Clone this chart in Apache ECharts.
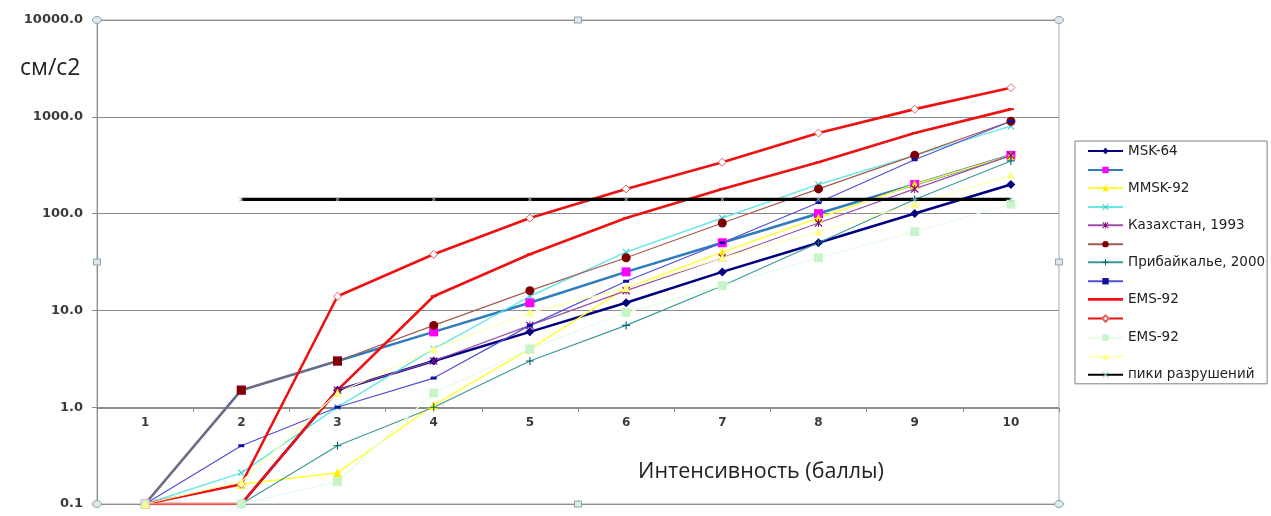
<!DOCTYPE html>
<html>
<head>
<meta charset="utf-8">
<script src="https://cdn.jsdelivr.net/npm/echarts@6/dist/echarts.min.js"></script>
<style>
  html, body { margin: 0; padding: 0; background: #ffffff; }
  #chart { width: 1271px; height: 516px; }
</style>
</head>
<body>
<div id="chart"></div>
<script>
// Intensity categories (points on the scale)
const categories = ['1', '2', '3', '4', '5', '6', '7', '8', '9', '10'];

// Peak ground acceleration, cm/s2, per intensity
const msk64        = [null, 0.1, 1.5, 3, 6, 12, 25, 50, 100, 200];
const msk64Hi      = [0.1, 1.5, 3, 6, 12, 25, 50, 100, 200, 400];
const mmsk92       = [0.1, 0.16, 0.21, 1.05, 4, 17, 40, 90, 200, 400];
const mmsk92Hi     = [0.1, 0.21, 1.0, 4, 14, 40, 90, 200, 400, 800];
const kazakh1993   = [null, 0.1, 1.5, 3, 7, 16, 35, 80, 180, 400];
const kazakh1993Hi = [0.1, 1.5, 3, 7, 16, 35, 80, 180, 400, 900];
const baikal2000   = [null, 0.1, 0.4, 1.0, 3, 7, 18, 50, 140, 350];
const baikal2000Hi = [0.1, 0.4, 1.0, 2, 7, 20, 50, 130, 360, 900];
const ems92        = [0.1, 0.1, 1.5, 14, 38, 90, 180, 340, 680, 1200];
const ems92Hi      = [0.1, 0.16, 14, 38, 90, 180, 340, 680, 1200, 2000];
const ems92b       = [0.1, 0.1, 0.17, 1.4, 4, 9.5, 18, 35, 65, 125];
const ems92bHi     = [0.1, 0.17, 1.4, 4, 9.5, 17, 35, 65, 125, 250];
const damagePeaks  = [null, 140, 140, 140, 140, 140, 140, 140, 140, 140];

// Legend captions (empty for the paired upper bounds)
const legendLabels = ['MSK-64', '', 'MMSK-92', '', 'Казахстан, 1993', '', 'Прибайкалье, 2000', '', 'EMS-92', '', 'EMS-92', '', 'пики разрушений'];

// Marker shapes not built into ECharts
const SYM_X    = 'path://M1,0L5,4L9,0L10,1L6,5L10,9L9,10L5,6L1,10L0,9L4,5L0,1Z';
const SYM_PLUS = 'path://M4.3,0H5.7V4.3H10V5.7H5.7V10H4.3V5.7H0V4.3H4.3Z';
const SYM_STAR = 'path://M1,0L5,4L9,0L10,1L6,5L10,9L9,10L5,6L1,10L0,9L4,5L0,1Z M4.4,0H5.6V10H4.4Z';
const ICON_LINE = 'path://M0,0H35V2.6H0Z';

const GRID = { left: 97, top: 20, right: 212, bottom: 12 };
const AXIS_Y1 = 408; // pixel row of the 1.0 line, where the category axis crosses

function line(idx, data, o) {
  return {
    name: 's' + idx,
    type: 'line',
    xAxisIndex: 0, yAxisIndex: 0,
    data: data,
    connectNulls: false,
    symbol: o.symbol || 'none',
    symbolSize: o.size || 8,
    showAllSymbol: true,
    lineStyle: { color: o.line, width: o.width || 1.2, type: 'solid' },
    itemStyle: { color: o.fill || o.line, borderColor: o.stroke || o.fill || o.line, borderWidth: o.bw || 0 },
    emphasis: { disabled: true },
    z: 2
  };
}

// maroon series: its first markers are drawn as dark-red squares
const kazakhHiData = kazakh1993Hi.map((v, i) => {
  if (i === 0) return { value: v, symbol: 'none' };
  if (i < 3) return { value: v, symbol: 'rect', symbolSize: 9 };
  return v;
});

const series = [
  line(1, msk64, { line: '#000080', width: 2.6, symbol: 'diamond', size: 9 }),
  line(2, msk64Hi, { line: '#2F7BBE', width: 2.6, symbol: 'rect', size: 9, fill: '#FF00FF' }),
  line(3, mmsk92, { line: '#FFFF33', width: 1.4, symbol: 'triangle', size: 9, fill: '#FFEE00' }),
  line(4, mmsk92Hi, { line: '#66E6E6', width: 1.4, symbol: SYM_X, size: 7, fill: '#33CCCC' }),
  line(5, kazakh1993, { line: '#9A4FA8', width: 1.2, symbol: SYM_STAR, size: 8, fill: '#800080' }),
  line(6, kazakhHiData, { line: '#A65A50', width: 1.2, symbol: 'circle', size: 9, fill: '#800000' }),
  line(7, baikal2000, { line: '#3C9A9A', width: 1.2, symbol: SYM_PLUS, size: 8, fill: '#006868' }),
  line(8, baikal2000Hi, { line: '#5050D0', width: 1.2, symbol: 'rect', size: [6, 3], fill: '#1010A0' }),
  line(9, ems92, { line: '#EE1111', width: 2.6, symbol: 'rect', size: [6, 2], fill: '#EE1111' }),
  line(10, ems92Hi, { line: '#EE1111', width: 2.6, symbol: 'diamond', size: 8, fill: '#ffffff', stroke: '#E06060', bw: 1 }),
  line(11, ems92b, { line: '#E4FCE4', width: 1.2, symbol: 'rect', size: 9, fill: '#C8F5C8' }),
  line(12, ems92bHi, { line: '#FFFFB0', width: 1.2, symbol: 'triangle', size: 8, fill: '#FFFF88' }),
  line(13, damagePeaks, { line: '#000000', width: 3.2, symbol: SYM_X, size: 5, fill: '#9CC8D8' })
];

const chart = echarts.init(document.getElementById('chart'), null, { renderer: 'canvas' });

const labelFont = { fontFamily: 'DejaVu Sans', fontWeight: 'bold', color: '#3a3a3a' };

// selection-style handles on the plot frame
const W = 1271, H = 516;
const gx0 = GRID.left, gx1 = W - GRID.right, gy0 = GRID.top, gy1 = H - GRID.bottom;
const gxm = (gx0 + gx1) / 2, gym = (gy0 + gy1) / 2;
const handleStyle = { fill: '#dde9ee', stroke: '#8aa4ad', lineWidth: 1 };
const handles = [];
[[gx0, gy0], [gx1, gy0], [gx0, gy1], [gx1, gy1]].forEach(p => handles.push({
  type: 'ellipse', shape: { cx: p[0], cy: p[1], rx: 4.5, ry: 3.5 }, style: handleStyle, z: 10
}));
[[gxm, gy0], [gxm, gy1], [gx0, gym], [gx1, gym]].forEach(p => handles.push({
  type: 'rect', shape: { x: p[0] - 3.5, y: p[1] - 3, width: 7, height: 6 }, style: handleStyle, z: 10
}));

chart.setOption({
  animation: false,
  backgroundColor: '#ffffff',
  grid: [
    { left: GRID.left, top: GRID.top, right: GRID.right, bottom: GRID.bottom,
      show: true, borderColor: '#a8a8a8', borderWidth: 1, backgroundColor: 'transparent' },
    { left: GRID.left, top: GRID.top, right: GRID.right, bottom: H - AXIS_Y1 }
  ],
  xAxis: [
    { type: 'category', gridIndex: 0, data: categories, boundaryGap: true,
      axisLine: { show: false }, axisTick: { show: false }, axisLabel: { show: false }, splitLine: { show: false } },
    { type: 'category', gridIndex: 1, data: categories, boundaryGap: true, position: 'bottom',
      axisLine: { show: true, lineStyle: { color: '#8c8c8c', width: 1 } },
      axisTick: { show: true, length: 4, lineStyle: { color: '#8c8c8c' } },
      axisLabel: Object.assign({ fontSize: 12, margin: 9 }, labelFont),
      splitLine: { show: false } }
  ],
  yAxis: [
    { type: 'log', gridIndex: 0, logBase: 10, min: 0.1, max: 10000,
      axisLine: { show: true, lineStyle: { color: '#8c8c8c' } },
      axisTick: { show: true, length: 5, lineStyle: { color: '#8c8c8c' } },
      axisLabel: Object.assign({ fontSize: 13, margin: 14, formatter: v => Number(v).toFixed(1) }, labelFont),
      splitLine: { show: true, lineStyle: { color: '#8c8c8c', width: 1 } },
      minorTick: { show: false } },
    { type: 'value', gridIndex: 1, show: false }
  ],
  legend: {
    orient: 'vertical',
    left: 1075, top: 141,
    padding: [3, 2, 2, 12],
    itemWidth: 35, itemHeight: 8, itemGap: 7.95,
    borderColor: '#808080', borderWidth: 1,
    backgroundColor: '#ffffff',
    textStyle: { fontFamily: 'DejaVu Sans', fontSize: 13.5, color: '#222222' },
    formatter: name => legendLabels[Number(name.slice(1)) - 1],
    data: series.map(s => s.name === 's9' ? { name: s.name, icon: ICON_LINE } : s.name),
    selectedMode: false
  },
  graphic: [
    { type: 'text', style: { text: 'см/с2', x: 20, y: 68, verticalAlign: 'middle', fontFamily: 'Open Sans', fontSize: 23, fill: '#222' } },
    { type: 'text', style: { text: 'Интенсивность (баллы)', x: 761, y: 472, align: 'center', verticalAlign: 'middle', fontFamily: 'Open Sans', fontSize: 21.5, fill: '#222' } }
  ].concat(handles),
  series: series
});
</script>
</body>
</html>
